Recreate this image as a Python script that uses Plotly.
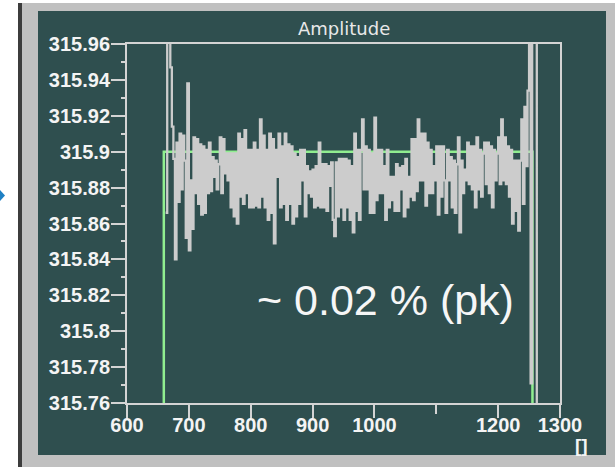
import plotly.graph_objects as go

# ---------------- data ----------------
amp_start = 662.5
amp_step = 2.5
amp_values = [
    315.866, 316.00, 315.97, 315.947, 315.914, 315.896, 315.840, 315.905, 315.872, 315.910,
    315.879, 315.909, 315.895, 315.852, 315.938, 315.845, 315.884, 315.857, 315.908, 315.877,
    315.907, 315.871, 315.904, 315.865, 315.903, 315.866, 315.901, 315.877, 315.905, 315.878,
    315.897, 315.886, 315.895, 315.879, 315.893, 315.908, 315.877, 315.907, 315.888, 315.899,
    315.884, 315.899, 315.869, 315.899, 315.864, 315.899, 315.860, 315.910, 315.875, 315.907,
    315.871, 315.912, 315.877, 315.901, 315.869, 315.901, 315.869, 315.905, 315.870, 315.901,
    315.869, 315.918, 315.875, 315.909, 315.869, 315.901, 315.862, 315.910, 315.866, 315.907,
    315.849, 315.901, 315.886, 315.910, 315.869, 315.903, 315.871, 315.910, 315.862, 315.904,
    315.871, 315.903, 315.860, 315.899, 315.864, 315.897, 315.871, 315.901, 315.884, 315.901,
    315.864, 315.892, 315.877, 315.889, 315.875, 315.890, 315.869, 315.892, 315.870, 315.905,
    315.869, 315.893, 315.869, 315.893, 315.867, 315.892, 315.881, 315.894, 315.862, 315.853,
    315.894, 315.864, 315.896, 315.869, 315.896, 315.862, 315.896, 315.869, 315.895, 315.862,
    315.892, 315.855, 315.910, 315.867, 315.901, 315.862, 315.901, 315.918, 315.879, 315.903,
    315.879, 315.901, 315.866, 315.899, 315.866, 315.919, 315.873, 315.901, 315.877, 315.901,
    315.877, 315.892, 315.862, 315.901, 315.869, 315.886, 315.873, 315.886, 315.867, 315.893,
    315.867, 315.891, 315.879, 315.892, 315.864, 315.896, 315.869, 315.886, 315.875, 315.907,
    315.873, 315.907, 315.878, 315.918, 315.884, 315.910, 315.884, 315.910, 315.870, 315.905,
    315.877, 315.901, 315.877, 315.892, 315.884, 315.903, 315.865, 315.903, 315.875, 315.903,
    315.884, 315.866, 315.901, 315.884, 315.897, 315.869, 315.895, 315.866, 315.893, 315.908,
    315.855, 315.895, 315.877, 315.890, 315.884, 315.905, 315.882, 315.903, 315.879, 315.903,
    315.869, 315.908, 315.879, 315.901, 315.875, 315.899, 315.905, 315.882, 315.905, 315.877,
    315.903, 315.869, 315.901, 315.884, 315.899, 315.908, 315.882, 315.918, 315.884, 315.908,
    315.882, 315.903, 315.875, 315.901, 315.860, 315.895, 315.867, 315.895, 315.856, 315.895,
    315.918, 315.871, 315.925, 315.892, 315.934, 316.05, 315.771, 316.05, 316.05, 316.05,
    315.60,
]
amp_x = [amp_start + amp_step * i for i in range(len(amp_values))]

window_x = [659.5, 659.5, 1255.5, 1255.5]
window_y = [315.70, 315.90, 315.90, 315.70]

y_ticks = [315.76, 315.78, 315.80, 315.82, 315.84, 315.86, 315.88, 315.90, 315.92, 315.94, 315.96]
y_tick_text = ["315.76", "315.78", "315.8", "315.82", "315.84", "315.86", "315.88",
               "315.9", "315.92", "315.94", "315.96"]
y_minor = [315.77, 315.79, 315.81, 315.83, 315.85, 315.87, 315.89, 315.91, 315.93, 315.95]
x_ticks = [600, 700, 800, 900, 1000, 1200, 1300]
x_tick_text = ["600", "700", "800", "900", "1000", "1200", "1300"]
x_minor = [1100]

title_text = "Amplitude"
note_text = "~ 0.02 % (pk)"
unit_text = "[]"

# ---------------- layout geometry (pixels) ----------------
W, H = 615, 467
L, R, T, B = 127, 560, 44, 403


def px_x(px):
    return (px - L) / (R - L)


def px_y(py):
    return (B - py) / (B - T)


TEAL = "#2f4f4f"
FRAME = "#c0c0c0"
AXC = "#d4d4d4"

fig = go.Figure()
fig.add_trace(go.Scatter(x=window_x, y=window_y, mode="lines",
                         line=dict(color="#90ee90", width=2.5), hoverinfo="skip"))
fig.add_trace(go.Scatter(x=amp_x, y=amp_values, mode="lines",
                         line=dict(color="#cccccc", width=2.3, shape="hv", simplify=False),
                         hoverinfo="skip"))

shapes = [
    dict(type="rect", xref="paper", yref="paper", x0=px_x(18), x1=px_x(22), y0=px_y(467), y1=px_y(3),
         fillcolor="#3c3c3c", line=dict(width=0), layer="below"),
    dict(type="rect", xref="paper", yref="paper", x0=px_x(22), x1=px_x(615), y0=px_y(467), y1=px_y(3),
         fillcolor=FRAME, line=dict(width=0), layer="below"),
    dict(type="rect", xref="paper", yref="paper", x0=px_x(38), x1=px_x(606), y0=px_y(455), y1=px_y(11),
         fillcolor=TEAL, line=dict(width=0), layer="below"),
    dict(type="path", xref="paper", yref="paper",
         path=f"M {px_x(0)},{px_y(190)} L {px_x(5)},{px_y(195.5)} L {px_x(0)},{px_y(201)} Z",
         fillcolor="#1f80c4", line=dict(width=0), layer="below"),
]

tickfont = dict(family="Liberation Sans", size=20, color="#f4f4f4", weight="bold")

fig.update_layout(
    width=W, height=H,
    margin=dict(l=L, r=W - R, t=T, b=H - B, pad=0),
    paper_bgcolor="white",
    plot_bgcolor=TEAL,
    showlegend=False,
    shapes=shapes,
    xaxis=dict(range=[600, 1300], showgrid=False, zeroline=False,
               showline=True, linecolor=AXC, linewidth=2, mirror=True,
               ticks="outside", ticklen=13, tickwidth=1.5, tickcolor=AXC,
               tickmode="array", tickvals=x_ticks, ticktext=x_tick_text,
               tickfont=tickfont, ticklabelstandoff=-10,
               minor=dict(tickmode="array", tickvals=x_minor, ticks="outside",
                          ticklen=9, tickwidth=1.5, tickcolor=AXC, showgrid=False)),
    yaxis=dict(range=[315.76, 315.96], showgrid=False, zeroline=False,
               showline=True, linecolor=AXC, linewidth=2, mirror=True,
               ticks="outside", ticklen=14, tickwidth=1.5, tickcolor=AXC,
               tickmode="array", tickvals=y_ticks, ticktext=y_tick_text,
               tickfont=tickfont, ticklabelstandoff=-3,
               minor=dict(tickmode="array", tickvals=y_minor, ticks="outside",
                          ticklen=4, tickwidth=1.5, tickcolor=AXC, showgrid=False)),
    annotations=[
        dict(text=title_text, xref="paper", yref="paper", x=px_x(343.5), y=px_y(28),
             xanchor="center", yanchor="middle", showarrow=False,
             font=dict(family="DejaVu Sans", size=18, color="#e8e8e8")),
        dict(text=note_text, xref="paper", yref="paper", x=px_x(385.5), y=px_y(300),
             xanchor="center", yanchor="middle", showarrow=False,
             font=dict(family="Liberation Sans", size=43, color="#f6f6f6")),
        dict(text=unit_text, xref="paper", yref="paper", x=px_x(581.5), y=px_y(445),
             xanchor="center", yanchor="middle", showarrow=False,
             font=dict(family="Liberation Sans", size=19, color="#f4f4f4", weight="bold")),
    ],
)

fig.write_html("out.html", post_script="document.body.style.margin='0';",
               config={"displayModeBar": False})
